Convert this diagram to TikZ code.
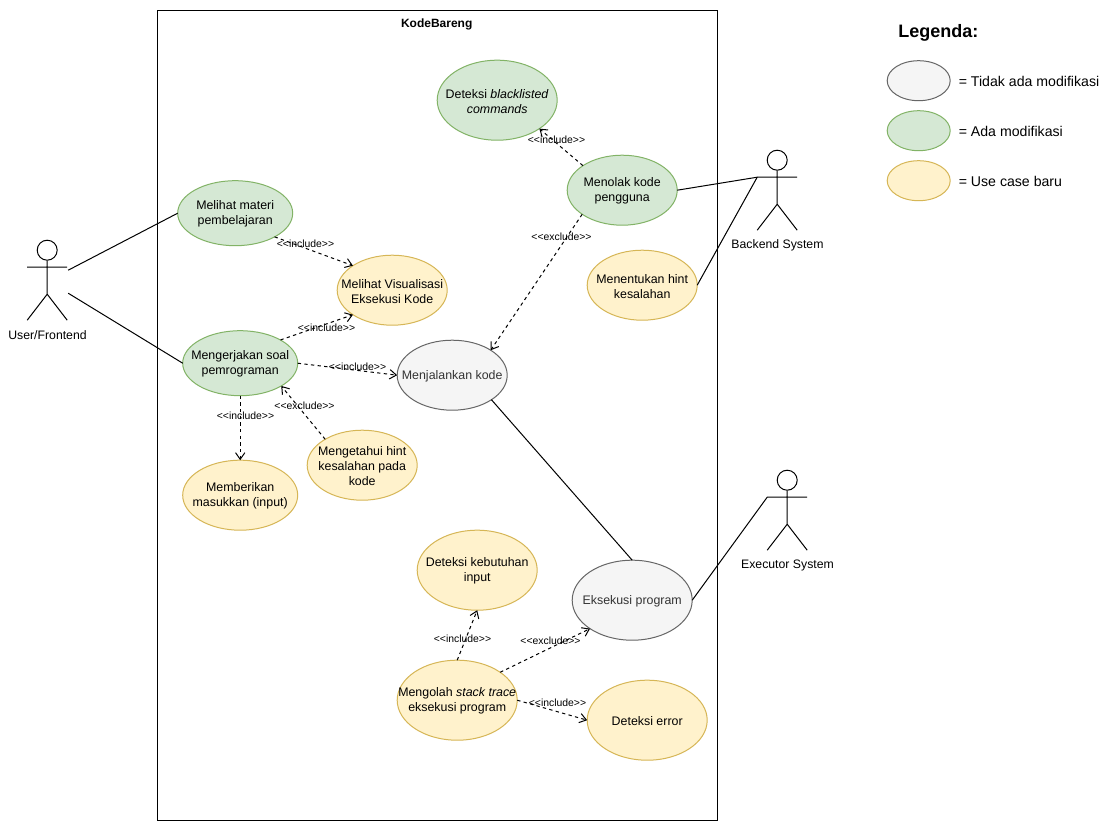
\documentclass[tikz,border=0pt]{standalone}
\usepackage{fontspec}
\setmainfont{Liberation Sans}
\usetikzlibrary{shapes.geometric,arrows.meta}
\definecolor{gfill}{HTML}{D5E8D4}\definecolor{gline}{HTML}{82B366}
\definecolor{yfill}{HTML}{FFF2CC}\definecolor{yline}{HTML}{D6B656}
\definecolor{wfill}{HTML}{F5F5F5}\definecolor{wline}{HTML}{666666}
\definecolor{wtext}{HTML}{333333}
\tikzset{
  ucshape/.style={ellipse,draw,line width=.75pt,inner sep=0pt,outer sep=0pt},
  green uc/.style={ucshape,fill=gfill,draw=gline},
  yellow uc/.style={ucshape,fill=yfill,draw=yline},
  white uc/.style={ucshape,fill=wfill,draw=wline},
  uctext/.style={align=center,font=\fontsize{9.3}{11.25}\selectfont,inner sep=0pt,yshift=-.75pt},
  stereo/.style={font=\fontsize{7.8}{9}\selectfont,inner sep=0pt},
  assoc/.style={line width=.75pt},
  dep/.style={line width=.75pt,dashed,dash pattern=on 2.5pt off 2.5pt,-{Straight Barb[length=5pt,width=7pt,line width=.75pt]}},
  actorname/.style={font=\fontsize{9.2}{11}\selectfont,inner sep=0pt},
  legendtext/.style={font=\fontsize{10.6}{12}\selectfont,anchor=west,inner sep=0pt},
}
\newcommand{\uct}[8]{%
  \node[#1,minimum width={#5*.75pt},minimum height={#6*.75pt}] (#2) at (#3,#4) {};
  \node[uctext,text=#7] (#2-text) at (#2) {#8};}
\newcommand{\actor}[3]{%
  \node[circle,draw,line width=.75pt,fill=white,minimum size=15pt,inner sep=0pt] (#1-head) at (#2,#3) {};
  \coordinate (#1-w) at (#2-20,#3+17);
  \coordinate (#1-e) at (#2+20,#3+17);
  \coordinate (#1-hip) at (#2,#3+44);
  \coordinate (#1-ll) at (#2-20,#3+70);
  \coordinate (#1-rl) at (#2+20,#3+70);
  \draw[assoc] (#1-head.south) -- (#1-hip) (#1-w) -- (#1-e) (#1-ll) -- (#1-hip) -- (#1-rl);}
\newcommand{\inc}{{<}{<}include{>}{>}}
\newcommand{\exc}{{<}{<}exclude{>}{>}}
\begin{document}
\begin{tikzpicture}[x=.75pt,y=-.75pt]
\useasboundingbox (0,0) rectangle (1118,832);
\fill[white] (0,0) rectangle (1118,832);
\begin{scope}[shift={(.2,.2)}]
\node[draw,line width=.75pt,minimum width=420pt,minimum height=607.5pt,inner sep=0pt,outer sep=0pt] (system) at (437.3,415.3) {};
\node[font=\fontsize{9}{11}\selectfont\bfseries,inner sep=0pt] (systitle) at (436.5,24.3) {KodeBareng};

\uct{green uc}{blacklist}{497}{100}{120}{80}{black}{Deteksi \textit{blacklisted}\\\textit{commands}}
\uct{green uc}{tolak}{622}{190}{110}{70}{black}{Menolak kode\\pengguna}
\uct{green uc}{materi}{235}{213}{115}{65}{black}{Melihat materi\\pembelajaran}
\uct{yellow uc}{visual}{392}{290}{110}{70}{black}{Melihat Visualisasi\\Eksekusi Kode}
\uct{yellow uc}{tentukan}{642}{285}{110}{70}{black}{Menentukan hint\\kesalahan}
\uct{green uc}{soal}{240}{363}{115}{65}{black}{Mengerjakan soal\\pemrograman}
\uct{white uc}{jalan}{452}{375}{110}{70}{wtext}{Menjalankan kode}
\uct{yellow uc}{tahu}{362}{465}{110}{70}{black}{Mengetahui hint\\kesalahan pada\\kode}
\uct{yellow uc}{input}{240}{495}{115}{70}{black}{Memberikan\\masukkan (input)}
\uct{yellow uc}{butuh}{477}{570}{120}{80}{black}{Deteksi kebutuhan\\input}
\uct{white uc}{eksekusi}{632}{600}{120}{80}{wtext}{Eksekusi program}
\uct{yellow uc}{olah}{457}{700}{120}{80}{black}{Mengolah \textit{stack trace}\\eksekusi program}
\uct{yellow uc}{error}{647}{720}{120}{80}{black}{Deteksi error}

\actor{user}{47}{250}
\actor{backend}{777}{160}
\actor{executor}{787}{480}
\node[actorname] (usern) at (47.3,334.8) {User/Frontend};
\node[actorname] (backendn) at (777.3,244.8) {Backend System};
\node[actorname] (executorn) at (787.3,564.8) {Executor System};

\coordinate (user-a) at (68,270);
\coordinate (user-b) at (68,293);
\draw[assoc] (user-a) -- (materi.west);
\draw[assoc] (user-b) -- (soal.west);
\draw[assoc] (tolak.east) -- (backend-w);
\draw[assoc] (tentukan.east) -- (backend-w);
\draw[assoc] (jalan.-32) -- (eksekusi.north);
\draw[assoc] (eksekusi.east) -- (executor-w);

\draw[dep] (materi.-31) -- (visual.148);
\draw[dep] (soal.30) -- (visual.212);
\draw[dep] (soal.east) -- (jalan.west);
\draw[dep] (soal.south) -- (input.north);
\draw[dep] (tahu.145) -- (soal.-29);
\draw[dep] (tolak.148) -- (blacklist.-34);
\draw[dep] (tolak.211) -- (jalan.33);
\draw[dep] (olah.north) -- (butuh.south);
\draw[dep] (olah.33) -- (eksekusi.214);
\draw[dep] (olah.east) -- (error.west);

\node[stereo] (s1) at (305.3,243.3) {\inc};
\node[stereo] (s2) at (326.3,327.3) {\inc};
\node[stereo] (s3) at (357.3,366.8) {\inc};
\node[stereo] (s4) at (245.3,415.3) {\inc};
\node[stereo] (s5) at (304.3,405.3) {\exc};
\node[stereo] (s6) at (556.3,139.3) {\inc};
\node[stereo] (s7) at (561.3,236.3) {\exc};
\node[stereo] (s8) at (462.3,638.3) {\inc};
\node[stereo] (s9) at (550.3,640.3) {\exc};
\node[stereo] (s10) at (557.3,702.3) {\inc};

\node[font=\fontsize{13.5}{16}\selectfont\bfseries,anchor=west,inner sep=0pt] (legend) at (897.8,32.3) {Legenda:};
\node[white uc,minimum width={63*.75pt},minimum height={40*.75pt}] (lg1) at (918.5,80.5) {};
\node[green uc,minimum width={63*.75pt},minimum height={40*.75pt}] (lg2) at (918.5,130.5) {};
\node[yellow uc,minimum width={63*.75pt},minimum height={40*.75pt}] (lg3) at (918.5,180.5) {};
\node[legendtext] (lt1) at (958.3,81.3) {= Tidak ada modifikasi};
\node[legendtext] (lt2) at (958.3,131.3) {= Ada modifikasi};
\node[legendtext] (lt3) at (958.3,181.3) {= Use case baru};
\end{scope}
\end{tikzpicture}
\end{document}
